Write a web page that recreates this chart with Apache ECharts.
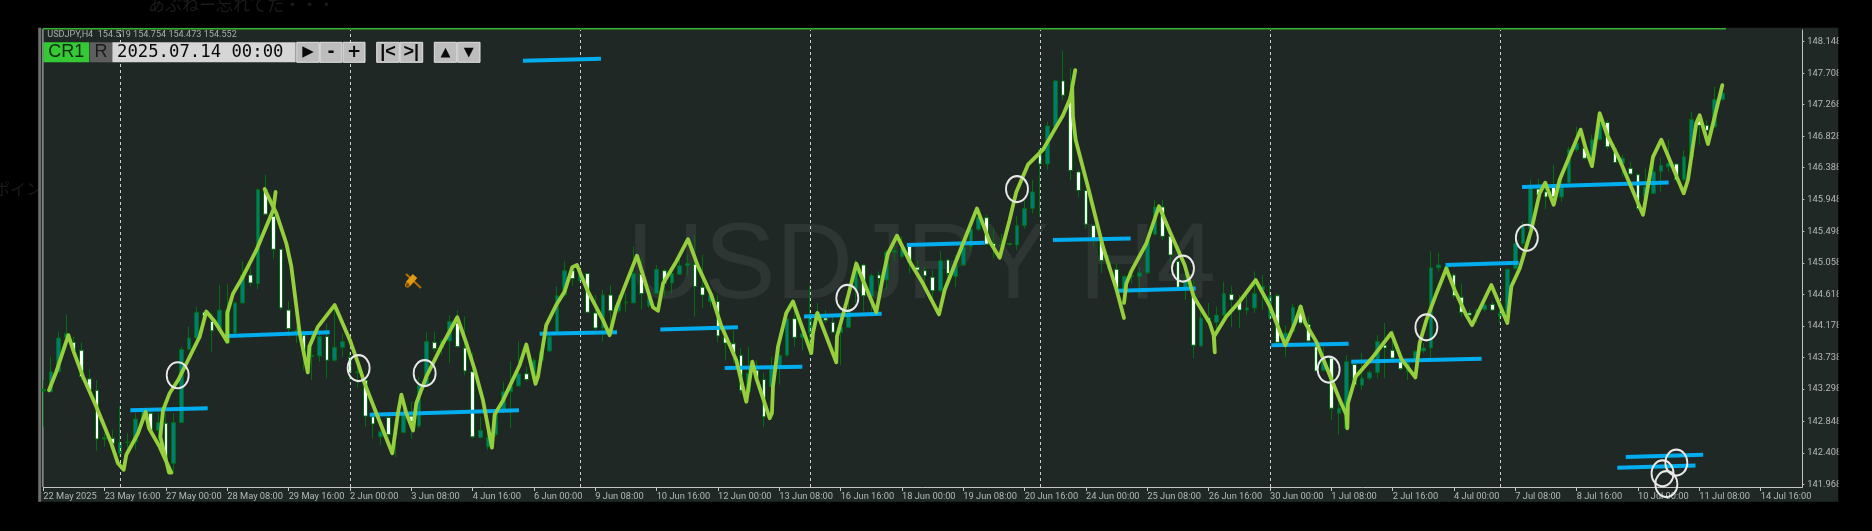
<!DOCTYPE html>
<html><head><meta charset="utf-8">
<style>html,body{margin:0;padding:0;background:#000;width:1872px;height:531px;overflow:hidden}#c{width:1872px;height:531px}</style>
<script src="https://cdn.jsdelivr.net/npm/echarts@6/dist/echarts.min.js"></script>
</head><body><div id="c"></div>
<script>
// time labels, one every 8 H4 bars
const tickLabels=["22 May 2025","23 May 16:00","27 May 00:00","28 May 08:00","29 May 16:00","2 Jun 00:00","3 Jun 08:00","4 Jun 16:00","6 Jun 00:00","9 Jun 08:00","10 Jun 16:00","12 Jun 00:00","13 Jun 08:00","16 Jun 16:00","18 Jun 00:00","19 Jun 08:00","20 Jun 16:00","24 Jun 00:00","25 Jun 08:00","26 Jun 16:00","30 Jun 00:00","1 Jul 08:00","2 Jul 16:00","4 Jul 00:00","7 Jul 08:00","8 Jul 16:00","10 Jul 00:00","11 Jul 08:00","14 Jul 16:00"];
const priceTicks=[141.968,142.408,142.848,143.298,143.738,144.178,144.618,145.058,145.498,145.948,146.388,146.828,147.268,147.708,148.148];
const weekSeparators=[10,40,70,100,130,160,190];
// open, close, low, high per bar
const ohlc=[
[143.27,143.29,142.77,143.42],[143.26,143.54,143.26,143.75],[143.54,144.01,143.54,144.10],[144.02,144.07,143.99,144.33],
[143.95,143.84,143.82,144.03],[143.84,143.47,143.42,143.95],[143.44,143.29,143.26,143.57],[143.28,142.60,142.44,143.42],
[142.60,142.62,142.49,142.68],[142.61,142.54,142.42,142.73],[142.40,142.55,142.35,143.06],[142.55,142.56,142.45,142.68],
[142.56,142.88,142.45,142.96],[142.88,142.98,142.87,143.00],[142.96,142.73,142.68,142.98],[142.72,142.83,142.54,142.96],
[142.82,142.31,142.26,142.96],[142.26,142.83,142.12,142.96],[142.83,143.85,142.82,143.89],[143.85,144.01,143.84,144.17],
[144.01,144.37,143.99,144.45],[144.37,144.32,144.22,144.38],[144.24,144.11,143.82,144.36],[144.12,144.40,144.10,144.75],
[144.40,143.94,143.94,144.77],[144.08,144.50,144.05,144.52],[144.50,144.89,144.49,145.08],[144.89,144.78,144.74,144.99],
[144.77,146.08,144.69,146.10],[146.08,145.74,145.73,146.29],[145.71,145.25,145.12,145.73],[145.25,144.43,144.40,145.25],
[144.40,144.14,144.03,144.52],[144.07,144.11,143.94,144.17],[144.05,143.77,143.56,144.12],[143.75,143.77,143.42,144.12],
[143.76,144.03,143.68,144.12],[144.03,143.70,143.45,144.21],[143.70,143.88,143.68,144.47],[143.88,143.96,143.75,144.07],
[143.74,143.53,143.42,143.82],[143.53,143.54,143.31,143.75],[143.42,142.92,142.77,143.47],[142.91,142.81,142.61,142.98],
[142.63,142.70,142.52,142.73],[142.90,142.66,142.54,142.96],[142.67,142.68,142.35,142.77],[142.69,142.94,142.68,143.01],
[142.92,142.84,142.60,143.12],[142.78,143.35,142.75,143.47],[143.35,143.96,143.33,144.09],[143.95,143.86,143.82,144.10],
[143.87,143.97,143.77,143.99],[143.97,144.24,143.66,144.33],[144.22,143.89,143.87,144.40],[143.87,143.55,143.49,144.31],
[143.54,142.63,142.61,143.81],[142.62,142.72,142.61,142.91],[142.49,142.62,142.45,142.73],[142.66,142.96,142.63,142.98],
[143.01,143.26,142.96,143.40],[143.26,143.34,142.75,143.68],[143.34,143.51,143.33,143.96],[143.51,143.43,143.40,143.61],
[143.45,143.70,143.42,143.73],[143.70,143.82,143.68,143.94],[143.83,144.03,143.81,144.05],[144.10,144.60,144.08,144.73],
[144.61,144.95,144.59,145.08],[144.95,144.84,144.74,145.03],[144.81,144.94,144.80,145.01],[144.91,144.37,144.36,144.92],
[144.36,144.15,144.12,144.61],[144.15,144.61,143.96,144.68],[144.61,144.39,144.12,144.75],[144.39,144.50,144.36,144.61],
[144.50,144.51,144.38,144.64],[144.50,144.91,144.50,145.29],[144.90,144.63,144.41,145.12],[144.46,144.59,144.43,144.68],
[144.63,144.97,144.63,145.03],[144.95,144.77,144.59,144.98],[144.78,144.91,144.63,144.98],[144.90,145.02,144.89,145.15],
[145.02,145.05,144.89,145.17],[145.04,144.73,144.31,145.45],[144.72,144.61,144.43,145.17],[144.52,144.61,144.45,144.68],
[144.52,144.04,143.95,144.61],[144.02,143.94,143.70,144.12],[143.93,143.80,143.66,144.12],[143.77,143.28,143.24,143.87],
[143.26,143.52,143.24,143.89],[143.56,143.46,143.45,143.70],[143.43,142.91,142.77,143.52],[143.33,143.61,143.31,143.75],
[143.61,143.77,143.36,143.94],[143.77,144.28,143.75,144.40],[144.28,144.02,143.89,144.40],[144.02,144.07,143.84,144.17],
[144.08,144.33,143.77,144.75],[144.29,144.36,144.26,144.50],[144.29,144.26,144.22,144.40],[144.23,144.09,144.08,144.31],
[144.09,144.16,143.63,144.31],[144.16,144.40,144.15,144.59],[144.68,145.01,144.50,145.10],[145.03,144.60,144.38,145.05],
[144.59,144.88,144.38,144.91],[144.89,144.84,144.68,144.94],[144.82,145.21,144.68,145.24],[145.21,145.23,145.08,145.38],
[145.15,145.26,145.12,145.43],[145.29,145.08,144.91,145.33],[145.00,144.96,144.87,145.10],[144.95,144.88,144.73,145.01],
[144.86,144.67,144.54,144.96],[144.67,145.09,144.64,145.22],[145.10,144.91,144.87,145.12],[144.87,145.03,144.72,145.17],
[145.03,145.28,145.01,145.31],[145.29,145.53,145.22,145.66],[145.53,145.70,145.50,145.80],[145.69,145.32,145.31,145.73],
[145.33,145.29,145.12,145.54],[145.31,145.30,145.22,145.47],[145.33,145.32,145.30,145.34],[145.31,145.58,145.24,145.71],
[145.58,145.82,145.54,145.94],[145.82,146.05,145.75,146.22],[146.64,146.44,145.70,146.64],[146.44,146.97,146.36,147.03],
[146.96,147.60,146.91,147.61],[147.60,147.40,147.33,148.02],[147.38,146.35,146.21,147.78],[146.33,146.07,145.98,146.36],
[146.07,145.60,145.54,146.08],[145.58,145.40,145.29,145.59],[145.38,145.09,144.92,145.40],[145.06,144.98,144.96,145.17],
[144.97,144.70,144.66,145.05],[144.66,144.87,144.56,144.89],[144.87,144.88,144.77,144.96],[144.87,144.92,144.59,145.01],
[144.92,145.38,144.91,145.40],[145.46,145.84,145.45,145.94],[145.84,145.43,145.38,145.94],[145.43,145.17,145.05,145.50],
[145.08,144.72,144.68,145.12],[144.70,144.82,144.54,144.91],[144.61,143.91,143.73,144.82],[143.90,144.29,143.89,144.47],
[144.29,144.24,144.22,144.50],[144.23,144.33,144.08,144.45],[144.33,144.63,144.31,144.79],[144.62,144.54,144.17,144.74],
[144.53,144.40,144.15,144.61],[144.40,144.43,144.33,144.63],[144.43,144.63,144.36,144.94],[144.68,144.73,144.40,144.89],
[144.29,144.60,144.26,144.75],[144.60,143.95,143.94,144.63],[143.94,144.08,143.75,144.19],[144.10,144.44,144.08,144.49],
[144.45,144.22,144.19,144.46],[144.20,143.97,143.95,144.31],[143.89,143.55,143.54,143.96],[143.56,143.73,143.54,143.89],
[143.73,143.03,142.87,143.75],[142.96,143.03,142.66,143.10],[142.75,143.68,142.73,143.77],[143.64,143.36,143.35,143.70],
[143.35,143.45,143.29,143.80],[143.45,143.53,143.42,143.56],[143.53,143.96,143.45,144.05],[143.91,143.87,143.45,144.22],
[143.84,143.73,143.70,144.12],[143.70,143.58,143.56,143.73],[143.54,143.66,143.42,143.70],[143.68,143.82,143.66,143.84],
[143.83,143.87,143.80,143.94],[143.87,144.99,143.73,145.22],[144.99,145.03,144.94,145.20],[144.94,145.01,144.91,145.05],
[144.89,144.60,144.56,144.91],[144.58,144.37,144.31,144.77],[144.36,144.33,144.24,144.41],[144.33,144.40,144.22,144.42],
[144.41,144.47,144.38,144.54],[144.48,144.40,144.39,144.52],[144.31,144.36,144.22,144.40],[144.36,144.97,144.31,144.98],
[144.98,145.33,144.96,145.43],[145.33,145.57,145.29,145.64],[145.54,146.10,145.52,146.22],[146.09,146.01,145.87,146.23],
[146.05,145.98,145.81,146.12],[146.12,145.98,145.97,146.43],[145.98,146.12,145.91,146.26],[146.18,146.64,146.16,146.68],
[146.64,146.73,146.61,146.96],[146.66,146.52,146.50,146.73],[146.47,146.78,146.43,146.85],[146.78,147.01,146.78,147.15],
[147.02,146.68,146.64,147.05],[146.66,146.46,146.45,146.71],[146.45,146.52,146.26,146.57],[146.38,146.30,146.29,146.47],
[146.29,145.82,145.79,146.31],[145.98,146.12,145.82,146.38],[146.03,146.33,146.02,146.57],[146.34,146.42,146.05,146.53],
[146.40,146.45,146.33,146.78],[146.44,146.22,146.19,146.45],[146.22,146.54,146.19,146.63],[146.54,147.06,146.52,147.17],
[147.10,146.98,146.71,147.15],[146.98,146.91,146.71,147.05],[146.96,147.34,146.94,147.52],[147.34,147.43,147.33,147.54]
];
// hand-drawn lime path: three strokes of [bar, price]
const pathStrokeA=[[.74,143.28],[1.7,143.54],[3.27,144.05],[3.96,143.82],[5.18,143.47],[6.92,143.05],[8.87,142.54],[9.74,142.26],[10.48,142.17],[10.83,142.38],[12.35,142.68],[13.35,142.98],[13.79,142.75],[15.18,142.49],[16.7,142.13],[16.4,142.13],[15.27,142.63],[15.61,143.0],[16.48,143.24],[17.57,143.42],[18.87,143.70],[20.4,144.03],[21.26,144.38],[22.35,144.24],[24.0,143.96],[24.0,144.36],[24.74,144.63],[26.05,144.87],[27.8,145.24],[30.0,145.80],[30.3,146.05]];
const pathStrokeB=[[28.87,146.09],[30.4,145.75],[31.7,145.33],[32.35,145.01],[33.44,144.08],[34.5,143.53],[34.7,143.89],[35.83,144.17],[38.0,144.47],[40.0,143.98],[41.05,143.66],[41.9,143.38],[43.44,142.96],[44.3,142.73],[45.52,142.40],[46.26,142.96],[46.7,143.22],[47.35,142.96],[48.22,142.72],[48.65,143.10],[49.96,143.47],[51.91,143.89],[54.0,144.30],[55.17,143.94],[56.26,143.57],[57.35,143.14],[58.52,142.48],[58.87,142.94],[59.96,143.14],[62.13,143.63],[63.0,143.92],[64.2,143.37],[64.52,143.47],[65.6,144.19],[66.9,144.47],[68.0,144.66],[69.0,145.0],[69.6,145.03],[71.04,144.66],[73.0,144.26],[73.87,144.05],[74.74,144.43],[77.43,145.16],[79.52,144.44],[80.17,144.39],[80.83,144.77],[82.57,145.08],[84.09,145.39],[85.4,145.01],[87.13,144.61],[88.4,144.19],[90.39,143.70],[91.7,143.12],[92.48,143.68],[93.0,143.45],[94.09,143.10],[94.74,142.89],[95.04,142.96],[95.17,143.33],[95.83,143.89],[96.91,144.36],[97.78,144.52],[100.17,143.80],[100.39,144.08],[100.96,144.36],[103.43,143.67],[103.52,144.03],[104.3,144.33],[104.96,144.59],[106.04,145.05],[106.9,144.82],[108.65,144.37],[109.52,144.87],[110.17,145.19],[111.35,145.44],[113.0,145.08],[114.74,144.77],[116.83,144.34],[117.57,144.68],[119.96,145.33],[121.78,145.82],[123.43,145.36],[124.74,145.13],[126.04,145.66],[126.91,146.05],[128.43,146.43],[130.39,146.64],[131.91,146.92],[133,147.12],[133.96,147.36],[134.6,147.75],[134.2,147.52],[134.3,147.10],[134.65,146.78],[136.26,146.12],[138.2,145.29],[140.0,144.68],[140.96,144.29]];
const pathStrokeC=[[140.96,144.50],[141.26,144.77],[141.9,144.94],[143.87,145.33],[145.52,145.85],[147.13,145.45],[148.87,145.03],[150.04,144.59],[152.13,144.22],[152.65,144.05],[152.8,143.81],[152.7,144.03],[154.3,144.31],[156.04,144.52],[158.13,144.82],[160,144.45],[162,143.91],[163.26,144.22],[164,144.45],[164.6,144.22],[166.04,143.96],[167.35,143.61],[169.09,143.15],[169.96,142.94],[170.09,142.75],[170.17,143.10],[171.17,143.47],[173.3,143.73],[175.83,144.08],[177.13,143.72],[178.96,143.46],[179.52,143.94],[180.4,144.26],[181.7,144.63],[183,144.98],[184.09,144.68],[185.6,144.33],[186.35,144.19],[188.87,144.75],[190.96,144.22],[191.48,144.73],[192.57,144.98],[194.09,145.52],[195.17,146.03],[195.9,146.18],[197,145.87],[197.78,146.22],[200.52,146.92],[201.17,146.66],[202,146.41],[203,147.15],[203.96,146.85],[205.6,146.50],[208.65,145.73],[209.96,146.54],[211.04,146.78],[213.96,146.03],[214.52,146.22],[215.6,147.01],[216.04,147.12],[217.13,146.72],[218,147.1],[219,147.54]];
// blue level segments: bar, price, bar, price
const levelSegments=[[11.35,143.0,21.44,143.03],[24.1,144.04,37.35,144.09],[42.57,142.94,62.04,143.0],[64.74,144.07,74.83,144.09],[80.48,144.13,90.6,144.16],[88.87,143.59,99.0,143.61],[99.22,144.31,109.35,144.35],[112.65,145.31,122.78,145.34],[62.57,147.88,72.74,147.91],[131.7,145.38,141.83,145.40],[140.17,144.67,150.3,144.70],[160.17,143.91,170.26,143.93],[170.6,143.68,187.6,143.72],[182.9,145.03,192.43,145.06],[192.87,146.12,212.0,146.18],[206.4,142.35,216.5,142.38],[205.3,142.20,215.5,142.23]];
// white ring markers: bar, price
const ringMarks=[[17.53,143.49],[41.13,143.59],[49.74,143.52],[104.87,144.57],[127.0,146.09],[148.65,144.98],[167.65,143.57],[180.4,144.16],[193.5,145.41],[213,142.27],[211.2,142.12],[211.7,141.97]];

const labelFont='Roboto,"Liberation Sans",sans-serif';
const LIME='#95cf3b', BLUE='#00aeef';
function btn(x,w,label,extra){
  return [{type:'rect',z:100,shape:{x:x,y:42.3,width:w,height:20},style:{fill:'#bdbdbd',stroke:'#e2e2e2',lineWidth:1}},
  {type:'text',z:101,style:Object.assign({x:x+w/2,y:52.3,text:label,fill:'#0a0a0a',font:'bold 17px "DejaVu Sans"',align:'center',verticalAlign:'middle'},extra||{})}];
}
const graphics=[
 {type:'rect',z:-20,shape:{x:38,y:27.7,width:1800.5,height:474},style:{fill:'#1f2825'}},
 {type:'text',z:-25,style:{x:148,y:-4,text:'あぶねー忘れてた・・・',fill:'#1b1b1b',font:'17px "Noto Sans CJK JP"'}},
 {type:'text',z:-25,style:{x:-6,y:181,text:'ポイント',fill:'#1b1b1b',font:'16px "Noto Sans CJK JP"'}},
 {type:'rect',z:-19,shape:{x:38.3,y:27.7,width:2.8,height:474},style:{fill:'#6e6e6e'}},
 {type:'rect',z:-18,shape:{x:42.4,y:29,width:1,height:458},style:{fill:'#c4c4c4'}},
 {type:'text',z:-10,style:{x:627,y:215,text:'USDJPY H4',fill:'#2d3633',font:'107px "Liberation Sans"'}},
 {type:'rect',z:100,shape:{x:43,y:27.9,width:1683,height:1.7},style:{fill:'#32b42f'}},
 {type:'rect',z:200,shape:{x:1838.5,y:0,width:34,height:531},style:{fill:'#000'}},
 {type:'text',z:100,style:{x:47.3,y:30,text:'USDJPY,H4  154.519 154.754 154.473 154.552',fill:'#a9adab',font:'9.1px Roboto'}},
 {type:'rect',z:100,shape:{x:43.3,y:42.3,width:46,height:20},style:{fill:'#35c935'}},
 {type:'text',z:101,style:{x:66.3,y:52.5,text:'CR1',fill:'#0c2a0c',font:'18px "Liberation Sans"',align:'center',verticalAlign:'middle'}},
 {type:'rect',z:100,shape:{x:90,y:42.3,width:22,height:20},style:{fill:'#5e5e5e'}},
 {type:'text',z:101,style:{x:101,y:52.5,text:'R',fill:'#1c1c1c',font:'18px "Liberation Sans"',align:'center',verticalAlign:'middle'}},
 {type:'rect',z:100,shape:{x:112.3,y:42.3,width:183.4,height:20},style:{fill:'#d6d6d6'}},
 {type:'text',z:101,style:{x:117,y:52.5,text:'2025.07.14 00:00',fill:'#0a0a0a',font:'17.3px "DejaVu Sans Mono"',verticalAlign:'middle'}},
 ...btn(296.7,22.6,'▶',{font:'15px "DejaVu Sans"'}),...btn(320,22,'-'),...btn(343,22,'+'),
 ...btn(376.7,22.6,'|<',{font:'bold 18px "Liberation Sans"'}),...btn(400,22.7,'>|',{font:'bold 18px "Liberation Sans"'}),
 ...btn(434.3,22.4,'▲',{font:'13px "DejaVu Sans"'}),...btn(457.7,22.3,'▼',{font:'13px "DejaVu Sans"'}),
 {type:'line',z:50,shape:{x1:406,y1:274,x2:421,y2:288},style:{stroke:'#b86f00',lineWidth:2}},
 {type:'line',z:51,shape:{x1:415,y1:276,x2:408,y2:284},style:{stroke:'#e39a12',lineWidth:6}},
 {type:'circle',z:52,shape:{cx:407.5,cy:285,r:2.2},style:{fill:'#7a4a00',stroke:'#c77f00',lineWidth:1}}
];
const strokeSeries=[pathStrokeA,pathStrokeB,pathStrokeC].map(d=>({type:'line',data:d,z:6,clip:false,symbol:'none',smooth:false,silent:true,lineStyle:{color:LIME,width:3.8,cap:'round',join:'round'}}));
const levelSeries=levelSegments.map(s=>({type:'line',data:[[s[0],s[1]],[s[2],s[3]]],z:5,symbol:'none',silent:true,lineStyle:{color:BLUE,width:4,cap:'butt'}}));
const chart=echarts.init(document.getElementById('c'),null,{renderer:'canvas',width:1872,height:531});
chart.setOption({
 animation:false,backgroundColor:'#000',
 grid:{left:43.3,top:30,width:1759,height:457,containLabel:false},
 xAxis:{type:'value',min:0,max:229.43,splitLine:{show:false},
  axisLine:{onZero:false,lineStyle:{color:'#c4c4c4',width:1}},
  axisTick:{show:true,length:4,customValues:tickLabels.map((_,k)=>k*8),lineStyle:{color:'#c4c4c4'}},
  axisLabel:{customValues:tickLabels.map((_,k)=>k*8),formatter:v=>tickLabels[Math.round(v/8)]||'',align:'left',margin:5,color:'#b4b8b6',fontFamily:labelFont,fontSize:9.3,hideOverlap:false}},
 yAxis:{type:'value',position:'right',min:141.93,max:148.311,splitLine:{show:false},
  axisLine:{show:true,onZero:false,lineStyle:{color:'#c4c4c4',width:1}},
  axisTick:{show:true,length:2,customValues:priceTicks,lineStyle:{color:'#c4c4c4'}},
  axisLabel:{customValues:priceTicks,formatter:v=>v.toFixed(3),margin:5,color:'#b4b8b6',fontFamily:labelFont,fontSize:9.3,hideOverlap:false}},
 graphic:{elements:graphics},
 series:[
  {type:'candlestick',z:3,clip:false,barWidth:4.4,silent:true,
   data:ohlc.map((r,i)=>[i,r[0],r[1],r[2],r[3]]),
   itemStyle:{color:'#007b78',color0:'#ffffff',borderColor:'#006f10',borderColor0:'#006f10',borderWidth:1},
   markLine:{silent:true,symbol:'none',label:{show:false},animation:false,lineStyle:{color:'#cfd2d0',type:[3,3],width:1},data:weekSeparators.map(b=>({xAxis:b}))}},
  ...levelSeries,...strokeSeries,
  {type:'scatter',z:8,clip:false,silent:true,data:ringMarks,symbol:'circle',symbolSize:[22,26],itemStyle:{color:'rgba(0,0,0,0)',borderColor:'#e8e8e8',borderWidth:2,opacity:1}}
 ]
});
</script></body></html>
